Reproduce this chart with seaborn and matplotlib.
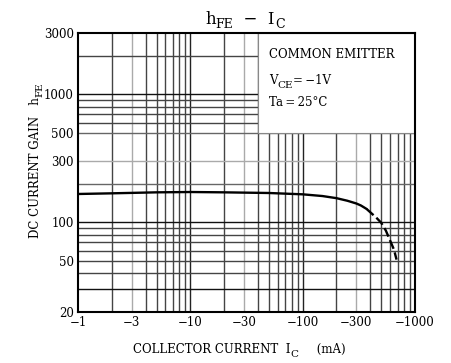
import numpy as np
import pandas as pd
import matplotlib
matplotlib.use("Agg")
import matplotlib.pyplot as plt
import seaborn as sns
from matplotlib.patches import Rectangle

# ---- data ----
ic_solid = [1, 2, 5, 10, 20, 50, 100, 150, 200, 250, 300, 330, 370]
hfe_solid = [166, 168, 171, 172, 171, 169, 165, 160, 154, 147, 140, 135, 127]
ic_dash = [370, 420, 450, 500, 550, 600, 650, 685]
hfe_dash = [127, 115, 109, 99, 86, 72, 61, 51]

x_ticks = [1, 3, 10, 30, 100, 300, 1000]
x_tick_labels = ["\u22121", "\u22123", "\u221210", "\u221230", "\u2212100", "\u2212300", "\u22121000"]
y_ticks = [20, 50, 100, 300, 500, 1000, 3000]
y_tick_labels = ["20", "50", "100", "300", "500", "1000", "3000"]

x_grid = [2, 3, 4, 5, 6, 7, 8, 9, 10, 20, 30, 40, 50, 60, 70, 80, 90, 100,
          200, 300, 400, 500, 600, 700, 800, 900]
y_grid = [30, 40, 50, 60, 70, 80, 90, 100, 200, 300, 500, 600, 700, 800, 900, 1000, 2000]

sns.set_theme(style="white")
plt.rcParams['font.family'] = ['DejaVu Serif']
plt.rcParams['mathtext.fontset'] = 'dejavuserif'

W, H = 451, 363
fig = plt.figure(figsize=(W / 100, H / 100), dpi=100)
ax = fig.add_axes([78/W, 1 - 311.7/H, 337/W, 278.7/H])
ax.set_xscale('log')
ax.set_yscale('log')
ax.set_xlim(1, 1000)
ax.set_ylim(20, 3000)

for v in x_grid:
    c = '#aaaaaa' if v in (3, 30, 300) else ('#222222' if v in (10, 100) else '#444444')
    ax.axvline(v, color=c, lw=1.0, zorder=1)
for v in y_grid:
    if v in (300,):
        c = '#aaaaaa'
    elif v in (100, 1000, 30):
        c = '#111111'
    elif v in (200, 500):
        c = '#666666'
    else:
        c = '#444444'
    ax.axhline(v, color=c, lw=1.0, zorder=1)

# white condition box
ax.add_patch(Rectangle((40, 500), 960, 2500, facecolor='white', edgecolor='#888888',
                       lw=0.8, zorder=2))

df_s = pd.DataFrame({"ic": ic_solid, "hfe": hfe_solid})
df_d = pd.DataFrame({"ic": ic_dash, "hfe": hfe_dash})
sns.lineplot(data=df_s, x="ic", y="hfe", ax=ax, color='black', lw=1.7, zorder=3)
sns.lineplot(data=df_d, x="ic", y="hfe", ax=ax, color='black', lw=1.7, zorder=3,
             linestyle=(0, (4, 1.6)))

ax.set_xticks(x_ticks)
ax.set_xticklabels(x_tick_labels)
ax.set_yticks(y_ticks)
ax.set_yticklabels(y_tick_labels)
ax.minorticks_off()
ax.tick_params(axis='both', length=0, labelsize=8.5, colors='black')
ax.tick_params(axis='x', pad=3)
ax.tick_params(axis='y', pad=3)
ax.set_xlabel("")
ax.set_ylabel("")

for s in ax.spines.values():
    s.set_visible(True)
    s.set_color('black')
    s.set_linewidth(1.5)
    s.set_zorder(4)


def px(x, y):
    return (x / W, 1 - y / H)


def chain_h(prev, s, size, dy=0.0, dx=0.0):
    # horizontal text continuing right after prev; dy in points (negative = lower)
    return ax.annotate(s, xy=(1, 0), xycoords=prev, xytext=(dx, dy), textcoords='offset points',
                       fontsize=size, color='black', ha='left', va='bottom',
                       annotation_clip=False, zorder=6)


def chain_v(prev, s, size, dx=0.0, dy=0.0):
    # rotated (90 deg) text continuing above prev; dx in points (positive = subscript)
    return ax.annotate(s, xy=(1, 1), xycoords=prev, xytext=(dx, dy), textcoords='offset points',
                       fontsize=size, color='black', ha='right', va='bottom', rotation=90,
                       annotation_clip=False, zorder=6)


# Title: hFE - IC
t0 = fig.text(*px(205, 24), "h", fontsize=12, color='black', ha='left', va='baseline')
t1 = chain_h(t0, "FE", 9, dy=-2.0)
t2 = chain_h(t1, "  \u2212  I", 12, dy=2.0)
t3 = chain_h(t2, "C", 9, dy=-2.0)

# x label
x0 = fig.text(*px(133, 353), "COLLECTOR CURRENT  I", fontsize=8.5, color='black',
              ha='left', va='baseline')
x1 = chain_h(x0, "C", 7.5, dy=-2.0)
x2 = chain_h(x1, "     (mA)", 8.5, dy=2.0)

# y label (rotated)
y0 = fig.text(*px(42, 238), "DC CURRENT GAIN   h", fontsize=8.5, color='black',
              ha='right', va='bottom', rotation=90)
y1 = chain_v(y0, "FE", 7.5, dx=2.0)

# condition texts
c0 = fig.text(*px(269, 57.5), "COMMON EMITTER", fontsize=8.5, color='black',
              ha='left', va='baseline', zorder=6)
v0 = fig.text(*px(269, 84.5), "V", fontsize=8.5, color='black', ha='left', va='baseline', zorder=6)
v1 = chain_h(v0, "CE", 7.5, dy=-2.0)
v2 = chain_h(v1, "=\u2009\u22121V", 8.5, dy=2.0)
a0 = fig.text(*px(269, 106), "Ta\u2009=\u200925\u00b0C", fontsize=8.5, color='black',
              ha='left', va='baseline', zorder=6)

fig.savefig("out.png", dpi=100, facecolor='white')
